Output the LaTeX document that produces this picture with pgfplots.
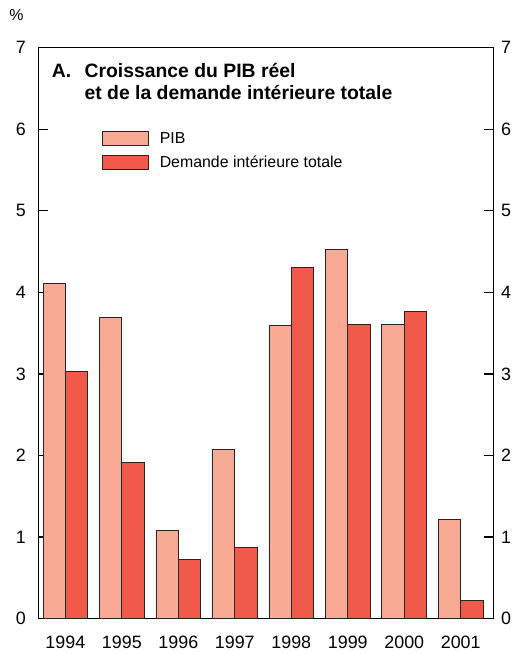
\documentclass[border=0pt]{standalone}
\usepackage{pgfplots}
\pgfplotsset{compat=1.18}
\usepackage{fontspec}
\setmainfont{Liberation Sans}
\definecolor{pib}{HTML}{F8AA94}
\definecolor{dit}{HTML}{EF5A4A}
\begin{document}
\begin{tikzpicture}
\pgfplotsset{common/.style={width=458.5pt,height=575pt,scale only axis,
  xmin=-0.48,xmax=7.58,ymin=0,ymax=7,ytick={0,1,2,3,4,5,6,7},
  /pgf/number format/assume math mode=true,
  tick label style={font=\fontsize{18}{18}\selectfont},
  axis line style={line width=1.2pt},
  major tick length=10pt, tick align=inside}}
\begin{axis}[common, name=ax, ybar=0pt, bar width=22.5pt,
  xtick={0,1,2,3,4,5,6,7},
  xticklabels={1994,1995,1996,1997,1998,1999,2000,2001},
  xtick style={draw=none},
  ytick pos=both, yticklabel pos=left,
  ytick style={line width=1.2pt, black},
  yticklabel style={xshift=-9pt},
  xticklabel style={yshift=-4pt},
  legend style={at={(axis description cs:0,1)}, anchor=north west,
    xshift=64.5pt, yshift=-84pt, draw=none, fill=none,
    font=\fontsize{16}{16}\selectfont, row sep=9pt, column sep=0pt,
    inner sep=0pt, outer sep=0pt,
    nodes={inner sep=0pt, anchor=west}},
  legend cell align=left,
  legend image code/.code={\draw[#1, line width=0.9pt] (0pt,-7pt) rectangle (46pt,7pt);},
  ]
\addplot[fill=pib, draw=black!85, line width=0.9pt] coordinates {
  (0,4.11) (1,3.69) (2,1.08) (3,2.07) (4,3.59) (5,4.52) (6,3.61) (7,1.21)};
\addlegendentry{\hspace{11pt}PIB}
\addplot[fill=dit, draw=black!85, line width=0.9pt] coordinates {
  (0,3.03) (1,1.92) (2,0.73) (3,0.87) (4,4.31) (5,3.61) (6,3.77) (7,0.22)};
\addlegendentry{\hspace{11pt}Demande intérieure totale}
\end{axis}
\begin{axis}[common, hide x axis, axis y line*=right,
  y axis line style={draw=none}, ytick style={draw=none},
  yticklabel pos=right, yticklabel style={xshift=4pt}]
\end{axis}
\node[anchor=base west, inner sep=0pt, font=\bfseries\fontsize{19.5}{22}\selectfont]
  at ([xshift=13.5pt,yshift=-30pt]ax.north west) {A.};
\node[anchor=base west, inner sep=0pt, font=\bfseries\fontsize{19.5}{22}\selectfont]
  at ([xshift=46.5pt,yshift=-30pt]ax.north west) {Croissance du PIB réel};
\node[anchor=base west, inner sep=0pt, font=\bfseries\fontsize{19.5}{22}\selectfont]
  at ([xshift=46.5pt,yshift=-52pt]ax.north west) {et de la demande intérieure totale};
\node[anchor=base, inner sep=0pt, font=\fontsize{16}{16}\selectfont]
  at ([xshift=-22pt,yshift=27pt]ax.north west) {\%};
\path ([xshift=-38.5pt,yshift=-29pt]ax.south west) rectangle ([xshift=22pt,yshift=48pt]ax.north east);
\end{tikzpicture}
\end{document}
